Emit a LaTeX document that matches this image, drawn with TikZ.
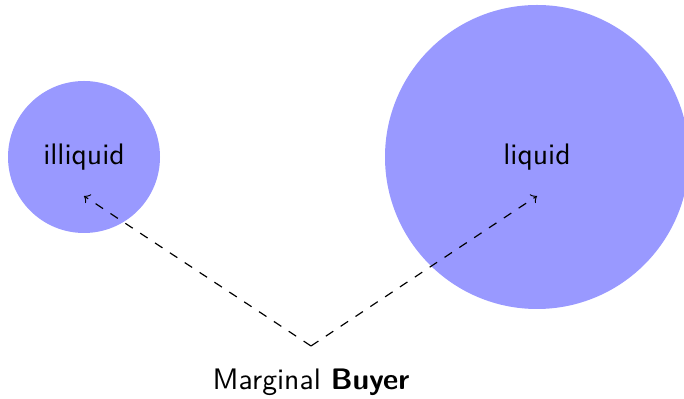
\documentclass[tikz,border=0pt]{standalone}
\usepackage{tikz}
\begin{document}
\begin{tikzpicture}[x=0.337pt,y=-0.337pt,
  blob/.style={circle,fill=blue!40,draw=none,inner sep=0pt},
  lbl/.style={font=\sffamily},
  link/.style={->,dashed,thin}]
\useasboundingbox (0,0) rectangle (684,399);
\node[blob,minimum size=152*0.337pt] (ill) at (84,157) {};
\node[blob,minimum size=304*0.337pt] (liq) at (537,157) {};
\node[lbl] (illt) at (84,157) {illiquid};
\node[lbl] (liqt) at (537,157) {liquid};
\coordinate (src) at (311,346);
\coordinate (a) at (84,196);
\coordinate (b) at (537,196);
\node[lbl,anchor=base] (buyer) at (311,390) {Marginal \textbf{Buyer}};
\draw[link] (src) -- (a);
\draw[link] (src) -- (b);
\end{tikzpicture}
\end{document}
